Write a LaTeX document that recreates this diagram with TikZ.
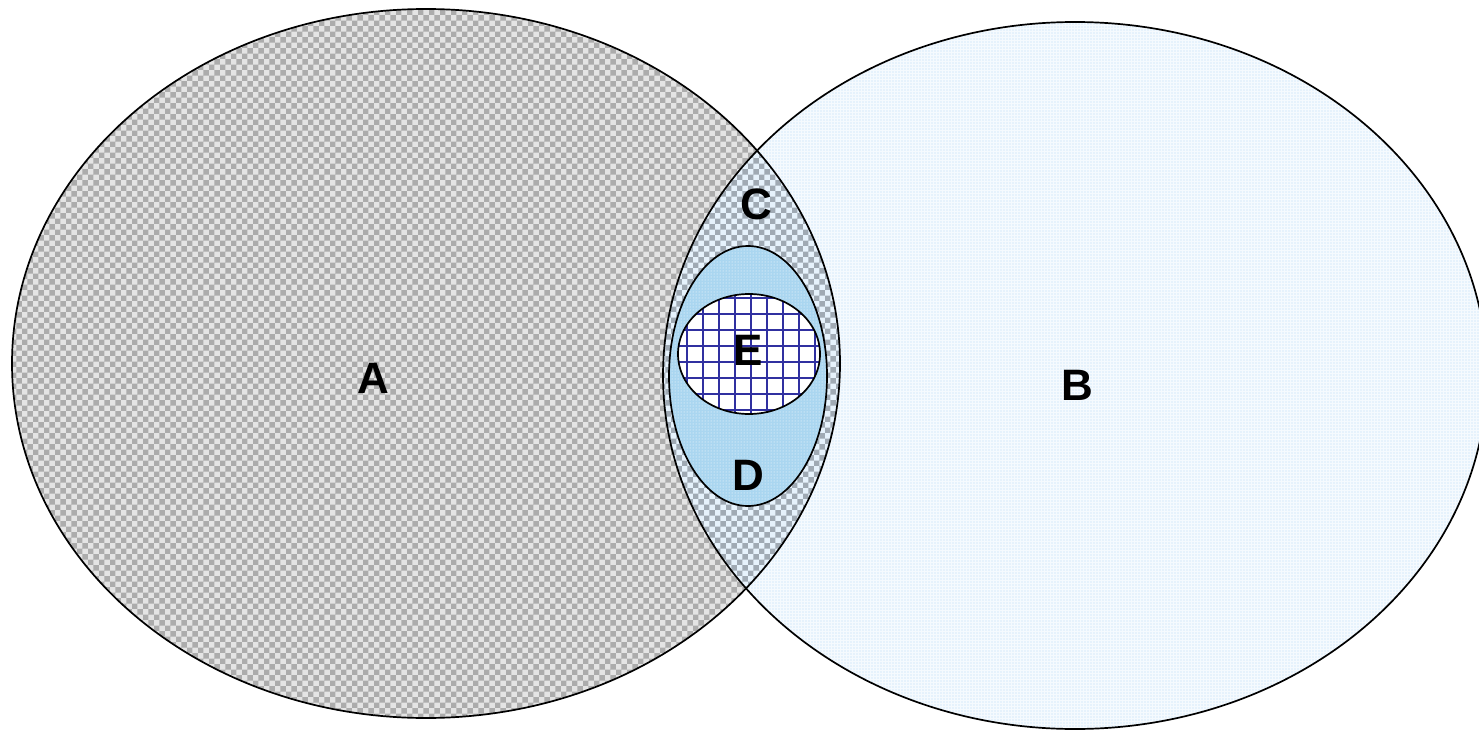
\documentclass[tikz,border=0pt]{standalone}
\usepackage{fontspec}
\setmainfont{Liberation Sans}
\usetikzlibrary{patterns}
\definecolor{agray}{RGB}{228,228,228}
\definecolor{achk}{RGB}{172,172,172}
\definecolor{bblue}{RGB}{230,242,252}
\definecolor{cchk}{RGB}{160,170,180}
\definecolor{dblue}{RGB}{170,214,240}
\definecolor{egrid}{RGB}{48,48,160}
\tikzset{
  outline/.style={draw=black, line width=1.7pt},
  letter/.style={font=\fontsize{44}{44}\selectfont\bfseries}
}

\begin{document}
\begin{tikzpicture}[x=1pt,y=-1pt]
    \useasboundingbox (0,0) rectangle (1479,730);
    \fill[agray] (426,363.5) ellipse [x radius=414, y radius=354.5];
    \fill[pattern=checkerboard, pattern color=achk] (426,363.5) ellipse [x radius=414, y radius=354.5];
    \fill[bblue] (1075,375.5) ellipse [x radius=412, y radius=353.5];
    \fill[pattern=grid, pattern color=white!60!bblue] (1075,375.5) ellipse [x radius=412, y radius=353.5];
    \begin{scope}
      \clip (426,363.5) ellipse [x radius=414, y radius=354.5];
      \fill[bblue] (1075,375.5) ellipse [x radius=412, y radius=353.5];
      \fill[pattern=checkerboard, pattern color=cchk] (1075,375.5) ellipse [x radius=412, y radius=353.5];
    \end{scope}
    \draw[outline] (426,363.5) ellipse [x radius=414, y radius=354.5];
    \draw[outline] (1075,375.5) ellipse [x radius=412, y radius=353.5];
    \fill[dblue] (748,376) ellipse [x radius=79, y radius=130];
    \fill[pattern=dots, pattern color=white] (748,376) ellipse [x radius=79, y radius=130];
    \draw[outline] (748,376) ellipse [x radius=79, y radius=130];
    \fill[white] (749,354) ellipse [x radius=71, y radius=60];
    \begin{scope}
      \clip (749,354) ellipse [x radius=71, y radius=60];
      \foreach \gx in {686.5,702.5,718.5,734.5,750.5,766.5,782.5,798.5,814.5}
        \draw[egrid, line width=2pt] (\gx,290) -- (\gx,418);
      \foreach \gy in {298,314,330,346,362,378,394,410}
        \draw[egrid, line width=2pt] (674,\gy) -- (824,\gy);
    \end{scope}
    \draw[outline] (749,354) ellipse [x radius=71, y radius=60];
    \node[letter] (labA) at (373,378) {A};
    \node[letter] (labB) at (1077,385) {B};
    \node[letter] (labC) at (756,204) {C};
    \node[letter] (labD) at (748,475) {D};
    \node[letter] (labE) at (748,350) {E};
\end{tikzpicture}
\end{document}
